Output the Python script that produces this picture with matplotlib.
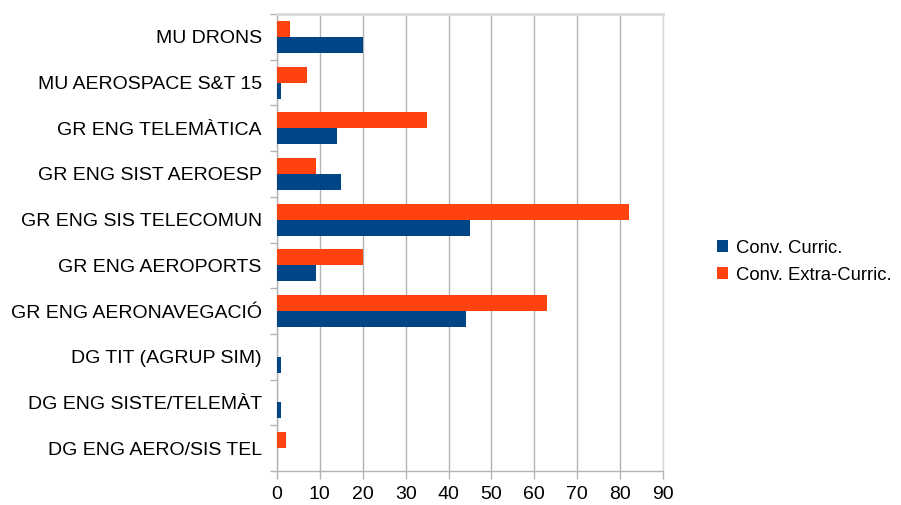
import matplotlib
matplotlib.use('Agg')
import matplotlib.pyplot as plt
import numpy as np

plt.rcParams['font.family'] = ['Liberation Sans', 'DejaVu Sans']

# Data (bottom to top)
categories = ['DG ENG AERO/SIS TEL', 'DG ENG SISTE/TELEMÀT', 'DG TIT (AGRUP SIM)',
              'GR ENG AERONAVEGACIÓ', 'GR ENG AEROPORTS', 'GR ENG SIS TELECOMUN',
              'GR ENG SIST AEROESP', 'GR ENG TELEMÀTICA', 'MU AEROSPACE S&T 15', 'MU DRONS']
curric = [0, 1, 1, 44, 9, 45, 15, 14, 1, 20]
extra_curric = [2, 0, 0, 63, 20, 82, 9, 35, 7, 3]
x_ticks = list(range(0, 100, 10))

blue = '#004586'
orange = '#ff420e'
grid_col = '#b3b3b3'

fig = plt.figure(figsize=(9.01, 5.05), dpi=100, facecolor='white')
ax = fig.add_axes([0.3074, 0.0673, 0.4285, 0.905])

y = np.arange(len(categories))
h = 0.35
ax.barh(y - h / 2, curric, height=h, color=blue, label='Conv. Curric.', zorder=3)
ax.barh(y + h / 2, extra_curric, height=h, color=orange, label='Conv. Extra-Curric.', zorder=3)

ax.set_xlim(0, 90)
ax.set_ylim(-0.5, len(categories) - 0.5)
ax.set_xticks(x_ticks)
ax.set_xticklabels([str(v) for v in x_ticks], fontsize=14)
ax.set_yticks(y)
ax.set_yticklabels(categories, fontsize=14)
ax.set_yticks(np.arange(-0.5, len(categories), 1), minor=True)

ax.tick_params(axis='y', which='major', length=0, pad=11)
ax.tick_params(axis='y', which='minor', length=5, color=grid_col, width=1)
ax.tick_params(axis='x', which='major', length=6, color=grid_col, width=1, pad=5)

ax.xaxis.grid(True, color=grid_col, linewidth=1, zorder=0)
ax.set_axisbelow(True)
for s in ax.spines.values():
    s.set_color(grid_col)
    s.set_linewidth(1)
ax.spines['top'].set_color('#d9d9d9')
ax.spines['top'].set_linewidth(2)
ax.spines['right'].set_color('#d9d9d9')

handles, labels = ax.get_legend_handles_labels()
fig.legend(handles, labels, loc='center left', bbox_to_anchor=(0.796, 0.482),
           frameon=False, fontsize=13.3, handlelength=0.6, handleheight=0.6,
           handletextpad=0.4, labelspacing=0.55, borderaxespad=0, borderpad=0)

fig.savefig('out.png', dpi=100, facecolor='white')
